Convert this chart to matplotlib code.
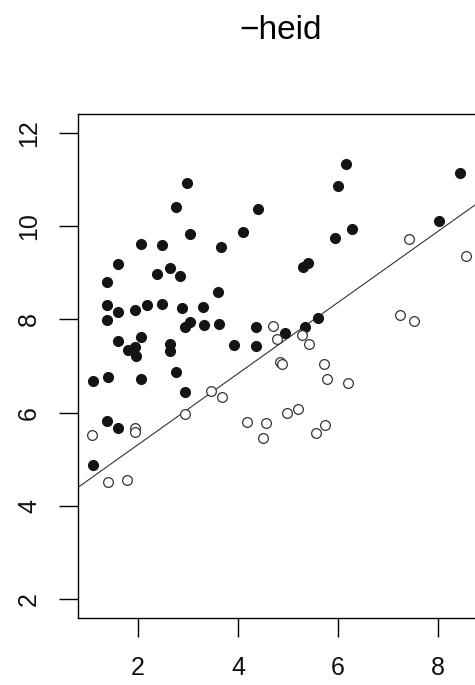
import matplotlib
matplotlib.use("Agg")
import matplotlib.pyplot as plt

# ---- data ----
filled_x = [2.98, 2.76, 3.04, 2.06, 2.48, 1.60, 2.64, 2.38, 2.84, 1.38,
            1.38, 1.60, 1.94, 2.18, 2.48, 2.88, 3.30, 1.38, 3.04, 2.94,
            3.32, 6.00, 4.40, 4.10, 5.94, 3.66, 5.40, 5.30, 3.60, 5.60,
            3.62, 4.36, 5.34, 6.16, 8.44, 8.02, 6.28, 1.60, 2.06, 1.80,
            1.94, 1.96, 2.64, 2.64, 1.40, 1.10, 2.06, 2.76, 2.94, 1.38,
            1.60, 1.10, 4.94, 3.92, 4.36]
filled_y = [10.93, 10.41, 9.83, 9.62, 9.60, 9.19, 9.10, 8.97, 8.93, 8.80,
            8.31, 8.16, 8.20, 8.31, 8.33, 8.24, 8.27, 7.99, 7.94, 7.84,
            7.88, 10.86, 10.37, 9.88, 9.75, 9.55, 9.21, 9.12, 8.59, 8.03,
            7.90, 7.84, 7.84, 11.33, 11.14, 10.11, 9.94, 7.54, 7.62, 7.34,
            7.41, 7.21, 7.47, 7.32, 6.76, 6.68, 6.72, 6.87, 6.44, 5.82,
            5.67, 4.88, 7.71, 7.45, 7.43]

open_x = [7.42, 8.56, 7.24, 7.52, 4.70, 4.78, 5.28, 5.42, 4.84, 4.87,
          5.72, 5.78, 6.20, 3.46, 3.68, 5.20, 4.98, 4.18, 4.56, 4.50,
          5.74, 5.56, 2.94, 1.94, 1.94, 1.08, 1.40, 1.78]
open_y = [9.73, 9.36, 8.09, 7.97, 7.86, 7.58, 7.67, 7.47, 7.09, 7.05,
          7.04, 6.72, 6.64, 6.46, 6.33, 6.08, 5.99, 5.80, 5.78, 5.45,
          5.73, 5.56, 5.97, 5.67, 5.58, 5.52, 4.51, 4.55]

line_intercept = 3.79
line_slope = 0.762

x_ticks = [2, 4, 6, 8]
y_ticks = [2, 4, 6, 8, 10, 12]
title_text = "\u2212heid"

# ---- figure ----
W, H = 475, 685
fig = plt.figure(figsize=(W / 100, H / 100), dpi=100)
plt.rcParams['font.family'] = ['Liberation Sans', 'DejaVu Sans']

left_px, right_px, top_px, bottom_px = 78, 484, 114, 618
ax = fig.add_axes([left_px / W, (H - bottom_px) / H,
                   (right_px - left_px) / W, (bottom_px - top_px) / H])

ax.plot(filled_x, filled_y, 'o', ms=7, color='#141414', mec='#141414', zorder=3)
ax.plot(open_x, open_y, 'o', ms=7, mfc='white', mec='#333333', mew=0.9, zorder=3)
ax.axline((0, line_intercept), slope=line_slope, color='#333333', lw=0.8, zorder=2)

ax.set_xlim(0.8, 8.92)
ax.set_ylim(1.6, 12.4)
ax.set_xticks(x_ticks)
ax.set_yticks(y_ticks)
ax.tick_params(axis='both', length=13.5, width=1.0, color='black',
               labelsize=18, direction='out', labelcolor='#111111')
ax.tick_params(axis='x', pad=14)
ax.tick_params(axis='y', pad=13)
for lab in ax.get_yticklabels():
    lab.set_rotation(90)
    lab.set_va('center')
for s in ax.spines.values():
    s.set_linewidth(1.0)
    s.set_color('black')

fig.text(281 / W, 1 - 39 / H, title_text, ha='center', va='baseline',
         fontsize=24, color='black')

fig.savefig('out.png', dpi=100)
